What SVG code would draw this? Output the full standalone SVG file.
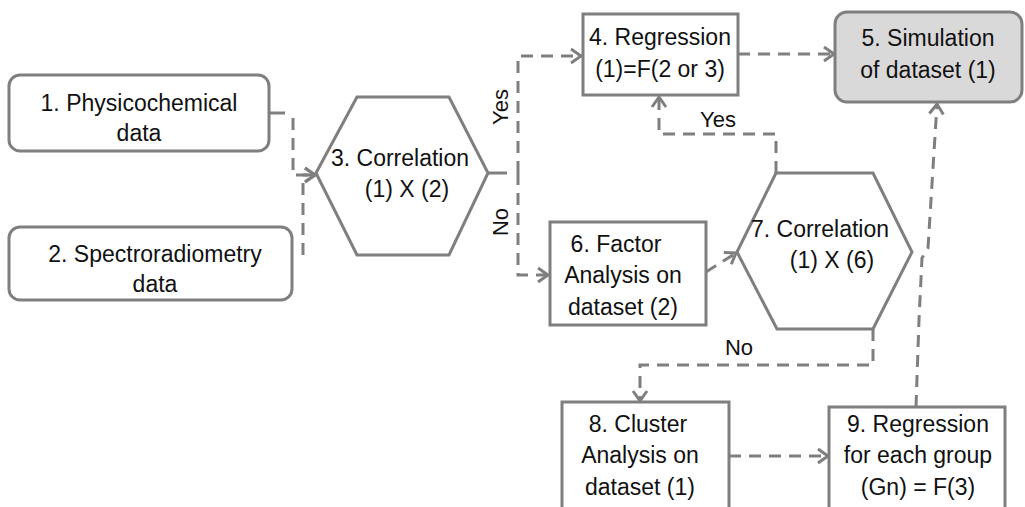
<svg xmlns="http://www.w3.org/2000/svg" width="1025" height="507" viewBox="0 0 1025 507">
<defs>
<style>
.box{fill:#fff;stroke:#7f7f7f;stroke-width:3}
.gray{fill:#d9d9d9;stroke:#7f7f7f;stroke-width:3}
.t{font-family:"Liberation Sans",Arial,sans-serif;font-size:23px;fill:#111;text-anchor:middle}
.lbl{font-family:"Liberation Sans",Arial,sans-serif;font-size:22px;fill:#111;text-anchor:middle}
.c{fill:none;stroke:#7f7f7f;stroke-width:3;stroke-dasharray:12,8}
.s{fill:none;stroke:#7f7f7f;stroke-width:3}
</style>
<marker id="arr" markerUnits="userSpaceOnUse" markerWidth="16" markerHeight="18" refX="12" refY="9" orient="auto">
<path d="M2,2 L12,9 L2,16" fill="none" stroke="#7f7f7f" stroke-width="3"/>
</marker>
</defs>
<rect width="1025" height="507" fill="#fff"/>
<g id="connectors">
<path class="s" d="M269,113 H285"/>
<path class="c" d="M293,118 V175 H315" marker-end="url(#arr)"/>
<path class="c" d="M303,255 V175 H315" marker-end="url(#arr)"/>
<path class="s" d="M488,173 H507"/>
<path class="c" d="M518,173 V56 H581" marker-end="url(#arr)"/>
<path class="c" d="M518,173 V275 H548" marker-end="url(#arr)"/>
<path class="c" d="M738,54 H834" marker-end="url(#arr)"/>
<path class="c" d="M706,272 L736,253" marker-end="url(#arr)"/>
<path class="c" d="M776,173 V134 H659 V97" marker-end="url(#arr)"/>
<path class="c" d="M873,329 V365 H640 V401" marker-end="url(#arr)"/>
<path class="c" d="M729,456 H828" marker-end="url(#arr)"/>
<path class="c" d="M916,407 L919,320 L922,258 L928,248 L937,104" marker-end="url(#arr)"/>
<text class="lbl" transform="translate(508,107) rotate(-90)">Yes</text>
<text class="lbl" transform="translate(508,222) rotate(-90)">No</text>
<text class="lbl" x="718" y="127">Yes</text>
<text class="lbl" x="739" y="355">No</text>
</g>
<g id="n1">
<rect class="box" x="9" y="75" width="260" height="76" rx="11"/>
<text class="t" x="139" y="111">1. Physicochemical</text>
<text class="t" x="139" y="141">data</text>
</g>
<g id="n2">
<rect class="box" x="9" y="227" width="283" height="73" rx="11"/>
<text class="t" x="155" y="262">2. Spectroradiometry</text>
<text class="t" x="155" y="292">data</text>
</g>
<g id="n3">
<polygon class="box" points="316,173 357,97 449,97 488,173 449,255 357,255"/>
<text class="t" x="400" y="166">3. Correlation</text>
<text class="t" x="407" y="197">(1) X (2)</text>
</g>
<g id="n4">
<rect class="box" x="583" y="14" width="155" height="81"/>
<text class="t" x="660" y="45">4. Regression</text>
<text class="t" x="660" y="77">(1)=F(2 or 3)</text>
</g>
<g id="n5">
<rect class="gray" x="835" y="12" width="187" height="90" rx="12"/>
<text class="t" x="928" y="46">5. Simulation</text>
<text class="t" x="928" y="78">of dataset (1)</text>
</g>
<g id="n6">
<rect class="box" x="550" y="222" width="156" height="103"/>
<text class="t" x="616" y="252">6. Factor</text>
<text class="t" x="623" y="283">Analysis on</text>
<text class="t" x="623" y="315">dataset (2)</text>
</g>
<g id="n7">
<polygon class="box" points="737,252 776,173 873,173 912,252 873,329 777,329"/>
<text class="t" x="820" y="237">7. Correlation</text>
<text class="t" x="832" y="268">(1) X (6)</text>
</g>
<g id="n8">
<rect class="box" x="562" y="402" width="167" height="120"/>
<text class="t" x="638" y="432">8. Cluster</text>
<text class="t" x="640" y="463">Analysis on</text>
<text class="t" x="640" y="495">dataset (1)</text>
</g>
<g id="n9">
<rect class="box" x="829" y="407" width="176" height="115"/>
<text class="t" x="918" y="432">9. Regression</text>
<text class="t" x="918" y="463">for each group</text>
<text class="t" x="918" y="495">(Gn) = F(3)</text>
</g>
</svg>
